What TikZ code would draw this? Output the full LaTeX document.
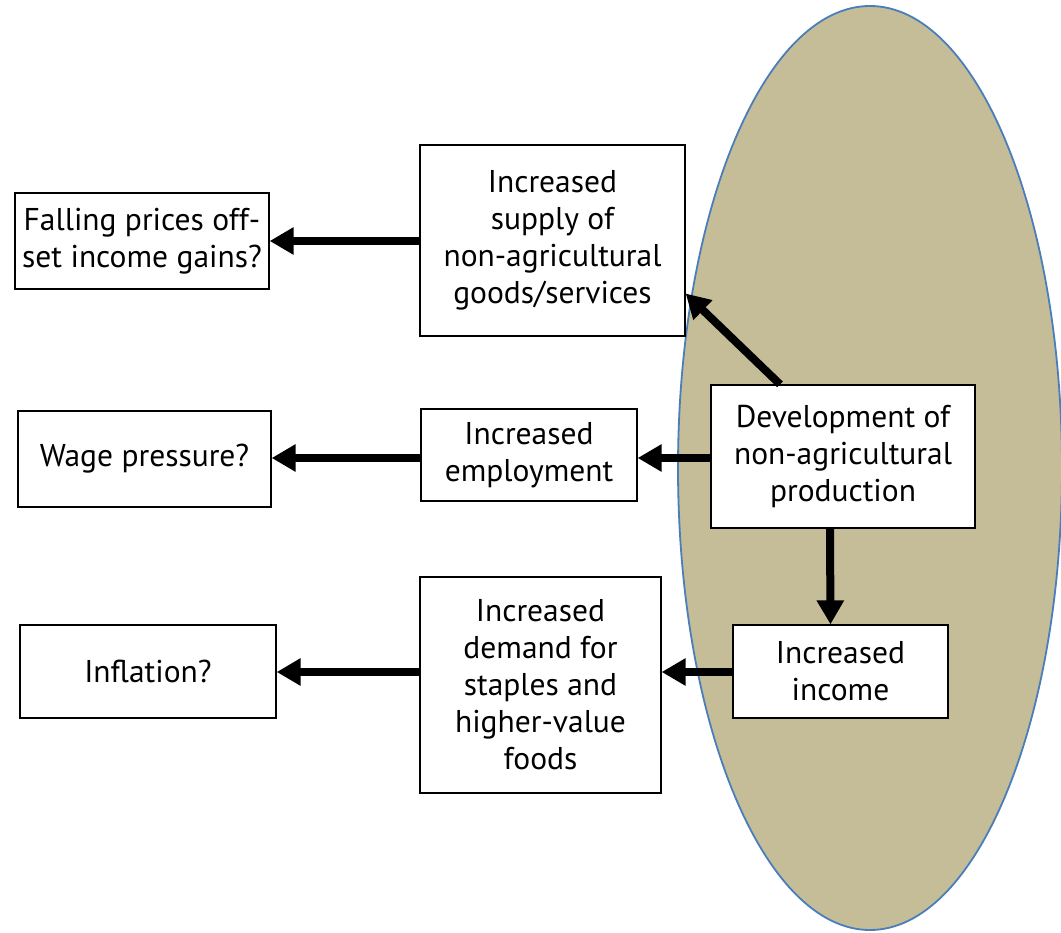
\documentclass[tikz,border=0pt]{standalone}
\usepackage{fontspec}
\setmainfont{PT Sans}
\usetikzlibrary{arrows.meta,shapes.geometric}
\definecolor{khaki}{HTML}{C4BD97}
\definecolor{eblue}{HTML}{4A7EBB}
\tikzset{
  box/.style={draw=black, line width=1.3pt, fill=white, align=center, inner sep=2pt,
    font=\fontsize{31.5}{37}\selectfont},
  arr/.style={line width=8pt, -{Triangle[length=24pt,width=26pt]}}
}
\begin{document}
\begin{tikzpicture}[x=1pt,y=-1pt]
\useasboundingbox (0,0) rectangle (1061,933);
\node[ellipse, draw=eblue, line width=1.8pt, fill=khaki, minimum width=384pt, minimum height=924pt, inner sep=0pt] (ell) at (870,468) {};
\node[box, minimum width=254pt, minimum height=96pt] (fall) at (142,241) {Falling prices off-\\set income gains?};
\node[box, minimum width=265pt, minimum height=191pt] (sup) at (552.5,240.5) {Increased\\supply of\\non-agricultural\\goods/services};
\node[box, minimum width=253pt, minimum height=96pt] (wage) at (144.5,459) {Wage pressure?};
\node[box, minimum width=216pt, minimum height=92pt] (emp) at (529,455) {Increased\\employment};
\node[box, minimum width=264pt, minimum height=143pt] (dev) at (843,456.5) {Development of\\non-agricultural\\production};
\node[box, minimum width=256pt, minimum height=93pt] (infl) at (148,671.5) {Inflation?};
\node[box, minimum width=241pt, minimum height=216pt] (dem) at (540.5,685) {Increased\\demand for\\staples and\\higher-value\\foods};
\node[box, minimum width=215pt, minimum height=93pt] (inc) at (840.5,671.5) {Increased\\income};
\draw[arr] (sup.west |- fall.east) -- (fall.east);
\draw[arr] (emp.west |- 0,458) -- (wage.east |- 0,458);
\draw[arr] (dev.west |- 0,458) -- (emp.east |- 0,458);
\draw[arr] ([xshift=-63pt]dev.north) -- ([yshift=-53pt]sup.east);
\draw[arr] ([xshift=-13pt]dev.south) -- ([xshift=-10pt]inc.north);
\draw[arr] (inc.west |- 0,672) -- (dem.east |- 0,672);
\draw[arr] (dem.west |- 0,672) -- (infl.east |- 0,672);
\end{tikzpicture}
\end{document}
